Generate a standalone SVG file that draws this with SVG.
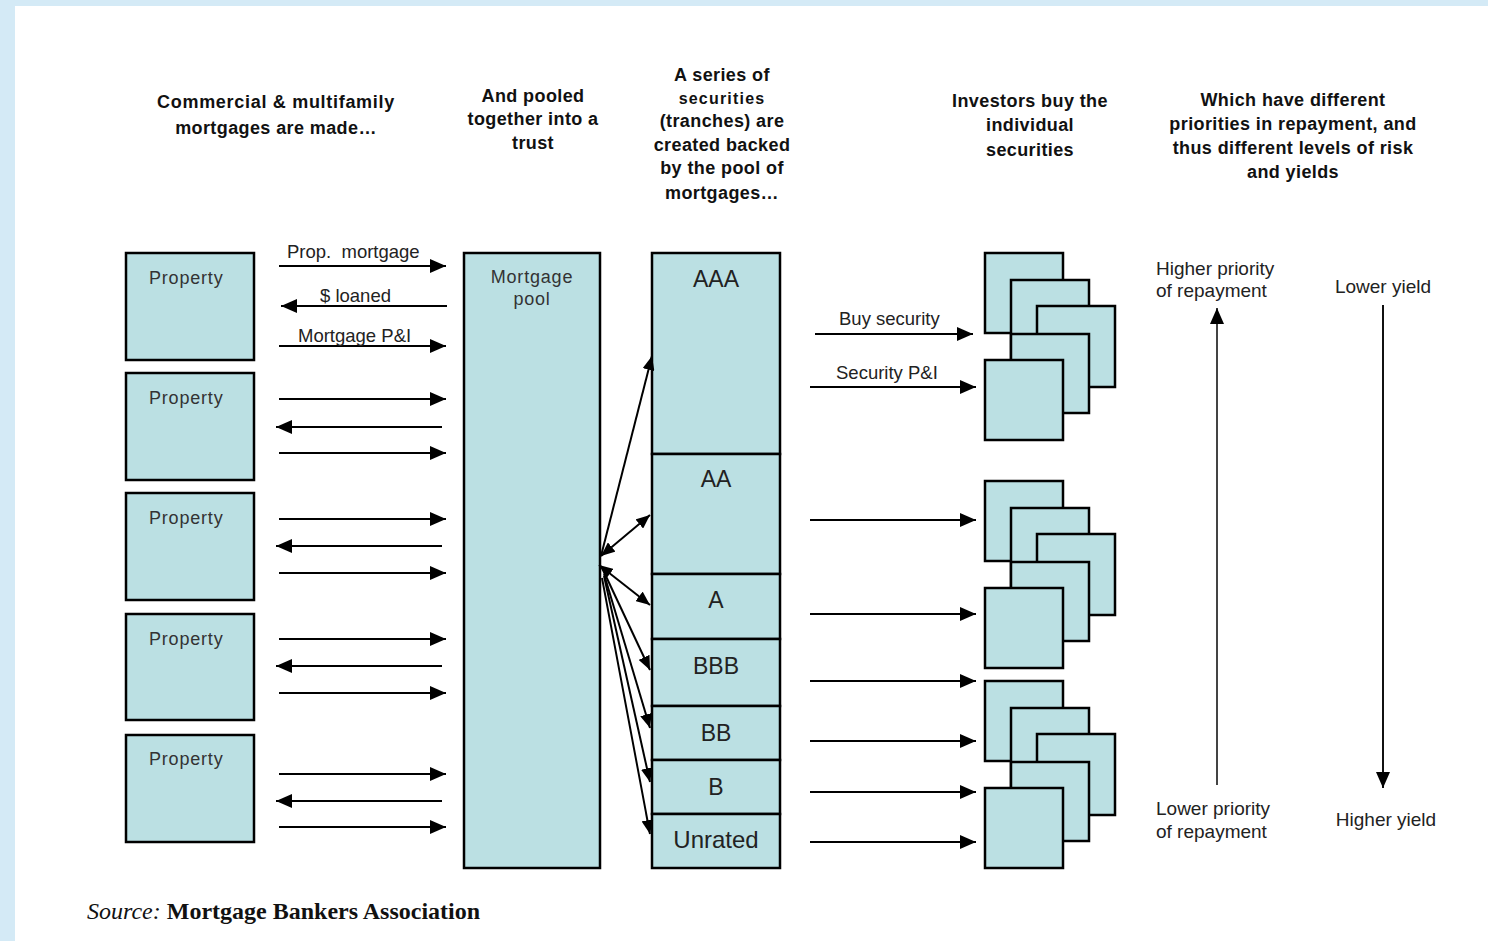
<svg xmlns="http://www.w3.org/2000/svg" width="1488" height="941" viewBox="0 0 1488 941">
<defs>
<style>
.box{fill:#bbe0e3;stroke:#000;stroke-width:2.5}
.ln{stroke:#000;stroke-width:2;fill:none}
.hd{font-family:"Liberation Sans",Arial,sans-serif;font-size:18px;font-weight:bold;letter-spacing:0.4px;fill:#111;text-anchor:middle}
.lbl{font-family:"Liberation Sans",Arial,sans-serif;font-size:18.5px;fill:#222;white-space:pre}
.prop{font-family:"Liberation Sans",Arial,sans-serif;font-size:18px;letter-spacing:0.8px;fill:#333}
.tr{font-family:"Liberation Sans",Arial,sans-serif;font-size:23px;fill:#222;text-anchor:middle}
.side{font-family:"Liberation Sans",Arial,sans-serif;font-size:19px;fill:#222}
</style>
<marker id="ah" viewBox="0 0 16 14" refX="16" refY="7" markerWidth="16" markerHeight="14" markerUnits="userSpaceOnUse" orient="auto-start-reverse">
<path d="M0,0 L16,7 L0,14 Z" fill="#000"/>
</marker>
<marker id="sh" viewBox="0 0 14 12" refX="14" refY="6" markerWidth="14" markerHeight="12" markerUnits="userSpaceOnUse" orient="auto-start-reverse">
<path d="M0,0 L14,6 L0,12 Z" fill="#000"/>
</marker>
</defs>
<rect x="0" y="0" width="1488" height="941" fill="#fff"/>
<rect x="0" y="0" width="1488" height="6" fill="#d4eaf6"/>
<rect x="0" y="0" width="15" height="941" fill="#d4eaf6"/>

<g id="headers">
<text class="hd" x="276" y="108" style="letter-spacing:0.7px">Commercial &amp; multifamily</text>
<text class="hd" x="276" y="134">mortgages are made…</text>
<text class="hd" x="533" y="102">And pooled</text>
<text class="hd" x="533" y="125">together into a</text>
<text class="hd" x="533" y="149">trust</text>
<text class="hd" x="722" y="81">A series of</text>
<text class="hd" x="722" y="104" style="font-size:16px;letter-spacing:1.2px">securities</text>
<text class="hd" x="722" y="127">(tranches) are</text>
<text class="hd" x="722" y="151">created backed</text>
<text class="hd" x="722" y="174">by the pool of</text>
<text class="hd" x="722" y="199">mortgages…</text>
<text class="hd" x="1030" y="107">Investors buy the</text>
<text class="hd" x="1030" y="131">individual</text>
<text class="hd" x="1030" y="156">securities</text>
<text class="hd" x="1293" y="106">Which have different</text>
<text class="hd" x="1293" y="130">priorities in repayment, and</text>
<text class="hd" x="1293" y="154">thus different levels of risk</text>
<text class="hd" x="1293" y="178">and yields</text>
</g>

<g id="property1"><rect class="box" x="126" y="253" width="128" height="107"/><text class="prop" x="149" y="284">Property</text></g>
<g id="property2"><rect class="box" x="126" y="373" width="128" height="107"/><text class="prop" x="149" y="404">Property</text></g>
<g id="property3"><rect class="box" x="126" y="493" width="128" height="107"/><text class="prop" x="149" y="524">Property</text></g>
<g id="property4"><rect class="box" x="126" y="614" width="128" height="106"/><text class="prop" x="149" y="645">Property</text></g>
<g id="property5"><rect class="box" x="126" y="735" width="128" height="107"/><text class="prop" x="149" y="765">Property</text></g>

<g id="pool"><rect class="box" x="464" y="253" width="136" height="615"/>
<text class="prop" x="532" y="283" text-anchor="middle">Mortgage</text>
<text class="prop" x="532" y="305" text-anchor="middle">pool</text></g>

<g id="tranches">
<rect class="box" x="652" y="253" width="128" height="201"/>
<rect class="box" x="652" y="454" width="128" height="120"/>
<rect class="box" x="652" y="574" width="128" height="65"/>
<rect class="box" x="652" y="639" width="128" height="67"/>
<rect class="box" x="652" y="706" width="128" height="54"/>
<rect class="box" x="652" y="760" width="128" height="54"/>
<rect class="box" x="652" y="814" width="128" height="54"/>
<text class="tr" x="716" y="287">AAA</text>
<text class="tr" x="716" y="487">AA</text>
<text class="tr" x="716" y="608">A</text>
<text class="tr" x="716" y="674">BBB</text>
<text class="tr" x="716" y="741">BB</text>
<text class="tr" x="716" y="795">B</text>
<text class="tr" x="716" y="848" style="font-size:24px">Unrated</text>
</g>

<g id="stack1">
<rect class="box" x="985" y="253" width="78" height="80"/>
<rect class="box" x="1011" y="280" width="78" height="80"/>
<rect class="box" x="1037" y="306" width="78" height="81"/>
<rect class="box" x="1011" y="334" width="78" height="79"/>
<rect class="box" x="985" y="360" width="78" height="80"/>
</g>
<g id="stack2">
<rect class="box" x="985" y="481" width="78" height="80"/>
<rect class="box" x="1011" y="508" width="78" height="80"/>
<rect class="box" x="1037" y="534" width="78" height="81"/>
<rect class="box" x="1011" y="562" width="78" height="79"/>
<rect class="box" x="985" y="588" width="78" height="80"/>
</g>
<g id="stack3">
<rect class="box" x="985" y="681" width="78" height="80"/>
<rect class="box" x="1011" y="708" width="78" height="80"/>
<rect class="box" x="1037" y="734" width="78" height="81"/>
<rect class="box" x="1011" y="762" width="78" height="79"/>
<rect class="box" x="985" y="788" width="78" height="80"/>
</g>

<g id="connectors">
<line class="ln" x1="279" y1="266" x2="446" y2="266" marker-end="url(#ah)"/>
<line class="ln" x1="447" y1="306" x2="281" y2="306" marker-end="url(#ah)"/>
<line class="ln" x1="279" y1="346" x2="446" y2="346" marker-end="url(#ah)"/>
<line class="ln" x1="279" y1="399" x2="446" y2="399" marker-end="url(#ah)"/>
<line class="ln" x1="442" y1="427" x2="276" y2="427" marker-end="url(#ah)"/>
<line class="ln" x1="279" y1="453" x2="446" y2="453" marker-end="url(#ah)"/>
<line class="ln" x1="279" y1="519" x2="446" y2="519" marker-end="url(#ah)"/>
<line class="ln" x1="442" y1="546" x2="276" y2="546" marker-end="url(#ah)"/>
<line class="ln" x1="279" y1="573" x2="446" y2="573" marker-end="url(#ah)"/>
<line class="ln" x1="279" y1="639" x2="446" y2="639" marker-end="url(#ah)"/>
<line class="ln" x1="442" y1="666" x2="276" y2="666" marker-end="url(#ah)"/>
<line class="ln" x1="279" y1="693" x2="446" y2="693" marker-end="url(#ah)"/>
<line class="ln" x1="279" y1="774" x2="446" y2="774" marker-end="url(#ah)"/>
<line class="ln" x1="442" y1="801" x2="276" y2="801" marker-end="url(#ah)"/>
<line class="ln" x1="279" y1="827" x2="446" y2="827" marker-end="url(#ah)"/>

<line class="ln" x1="601" y1="556" x2="652" y2="356" marker-end="url(#sh)"/>
<line class="ln" x1="601" y1="556" x2="650" y2="515" marker-start="url(#sh)" marker-end="url(#sh)"/>
<line class="ln" x1="599" y1="565" x2="650" y2="605" marker-start="url(#sh)" marker-end="url(#sh)"/>
<line class="ln" x1="604" y1="572" x2="650" y2="670" marker-end="url(#sh)"/>
<line class="ln" x1="604" y1="574" x2="650" y2="728" marker-end="url(#sh)"/>
<line class="ln" x1="604" y1="576" x2="650" y2="782" marker-end="url(#sh)"/>
<line class="ln" x1="602" y1="578" x2="650" y2="834" marker-end="url(#sh)"/>

<line class="ln" x1="815" y1="334" x2="973" y2="334" marker-end="url(#ah)"/>
<line class="ln" x1="810" y1="387" x2="976" y2="387" marker-end="url(#ah)"/>
<line class="ln" x1="810" y1="520" x2="976" y2="520" marker-end="url(#ah)"/>
<line class="ln" x1="810" y1="614" x2="976" y2="614" marker-end="url(#ah)"/>
<line class="ln" x1="810" y1="681" x2="976" y2="681" marker-end="url(#ah)"/>
<line class="ln" x1="810" y1="741" x2="976" y2="741" marker-end="url(#ah)"/>
<line class="ln" x1="810" y1="792" x2="976" y2="792" marker-end="url(#ah)"/>
<line class="ln" x1="810" y1="842" x2="976" y2="842" marker-end="url(#ah)"/>

<line x1="1217" y1="785" x2="1217" y2="308" stroke="#444" stroke-width="2" marker-end="url(#ah)"/>
<line x1="1383" y1="305" x2="1383" y2="788" stroke="#111" stroke-width="2" marker-end="url(#ah)"/>
</g>

<g id="labels">
<text class="lbl" x="287" y="258">Prop.  mortgage</text>
<text class="lbl" x="320" y="302">$ loaned</text>
<text class="lbl" x="298" y="342">Mortgage P&amp;I</text>
<text class="lbl" x="839" y="325">Buy security</text>
<text class="lbl" x="836" y="379">Security P&amp;I</text>
<text class="side" x="1156" y="275">Higher priority</text>
<text class="side" x="1156" y="297">of repayment</text>
<text class="side" x="1383" y="293" text-anchor="middle">Lower yield</text>
<text class="side" x="1156" y="815">Lower priority</text>
<text class="side" x="1156" y="838">of repayment</text>
<text class="side" x="1386" y="826" text-anchor="middle">Higher yield</text>
</g>

<text x="87" y="919" font-family="'Liberation Serif','Times New Roman',serif" font-size="24" fill="#111"><tspan font-style="italic">Source:</tspan><tspan font-weight="bold"> Mortgage Bankers Association</tspan></text>
</svg>
